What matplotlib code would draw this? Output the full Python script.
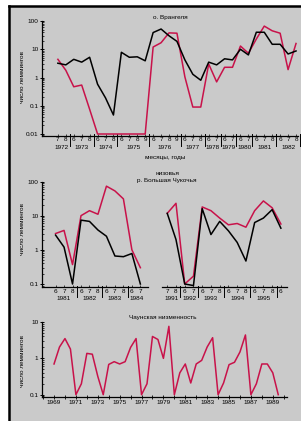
import matplotlib
matplotlib.use('Agg')
import matplotlib.pyplot as plt
from matplotlib.patches import Rectangle
from matplotlib.lines import Line2D
from matplotlib.ticker import LogLocator, NullFormatter, FixedLocator, FixedFormatter
import matplotlib.transforms as mtrans

plt.rcParams['font.family'] = ['Liberation Sans', 'DejaVu Sans']

# ---------------- data ----------------
# Panel 1: Wrangel Island
top_months = [7, 8, 6, 7, 8, 6, 7, 8, 6, 7, 8, 9, 6, 7, 8, 9, 6, 7, 8, 6, 7, 6, 7, 6, 7, 6, 7, 8, 6, 7, 8]
top_years = [1972, 1973, 1974, 1975, 1976, 1977, 1978, 1979, 1980, 1981, 1982]
top_year_counts = [2, 3, 3, 4, 4, 3, 2, 2, 2, 3, 3]
top_black = [3.2, 2.8, 4.4, 3.5, 5.2, 0.58, 0.19, 0.047, 7.8, 5.2, 5.4, 3.9, 39, 52, 30, 19,
             4.2, 1.3, 0.8, 3.5, 2.8, 4.6, 4.2, 10, 6.3, 40, 40, 15, 15, 6.8, 8.7]
top_red = [4.4, 1.8, 0.47, 0.54, 0.075, 0.01, 0.01, 0.01, 0.01, 0.01, 0.01, 0.01, 12, 17, 38, 37,
           1.05, 0.09, 0.09, 3.0, 0.7, 2.3, 2.3, 13, 7.2, 23, 66, 45, 37, 1.9, 16]

# Panel 2 left: Bolshaya Chukochya 1981-1984
midL_months = [6, 7, 8, 6, 7, 8, 6, 7, 8, 6, 7]
midL_years = [1981, 1982, 1983, 1984]
midL_year_counts = [3, 3, 3, 2]
midL_red = [3.0, 3.7, 0.37, 10, 14, 11, 73, 53, 31, 1.0, 0.3]
midL_black = [2.7, 1.2, 0.1, 7.4, 6.8, 3.8, 2.5, 0.66, 0.63, 0.78, 0.1]

# Panel 2 right: 1991-1996
midR_months = [7, 8, 6, 7, 6, 7, 8, 6, 7, 8, 6, 7, 8, 6]
midR_years = [1991, 1992, 1993, 1994, 1995, None]
midR_year_counts = [2, 2, 3, 3, 3, 1]
midR_red = [11.7, 23, 0.1, 0.17, 18, 14, 8.5, 5.4, 5.9, 4.6, 14, 27, 17, 5.7]
midR_black = [11.7, 2.0, 0.1, 0.09, 16, 2.8, 6.8, 3.6, 1.65, 0.47, 6.3, 8.5, 15, 4.3]

# Panel 3: Chaun lowland (half-year steps)
bot_t = [1969 + 0.5 * i for i in range(42)]
bot_red = [0.70, 2.05, 3.5, 1.8, 0.1, 0.2, 1.37, 1.3, 0.32, 0.1, 0.68, 0.81, 0.70, 0.81,
           2.0, 3.5, 0.1, 0.2, 4.0, 3.3, 1.0, 7.6, 0.1, 0.4, 0.7, 0.21, 0.7, 0.88, 2.05,
           3.7, 0.1, 0.21, 0.67, 0.78, 1.5, 4.4, 0.1, 0.2, 0.7, 0.7, 0.4, 0.1]
bot_label_years = list(range(1969, 1990, 2))

# ---------------- figure ----------------
W, H = 301, 421
fig = plt.figure(figsize=(W / 100, H / 100), dpi=100)
fig.patch.set_facecolor('white')
BG = '#cacaca'
RED = '#c8124a'
FS = 4.6

fig.patches.append(Rectangle((9 / W, 0), 1 - 9 / W, 1 - 6 / H, transform=fig.transFigure,
                             facecolor=BG, edgecolor='none', zorder=-5))
fig.lines.append(Line2D([9 / W, 9 / W], [0, 1 - 6 / H], transform=fig.transFigure, color='black', lw=1.8, zorder=-4))
fig.lines.append(Line2D([9 / W, 1], [1 - 6 / H, 1 - 6 / H], transform=fig.transFigure, color='black', lw=1.8, zorder=-4))


def ax_px(l, t, r, b):
    ax = fig.add_axes([l / W, 1 - b / H, (r - l) / W, (b - t) / H])
    ax.set_facecolor('none')
    ax.set_zorder(2)
    for s in ['top', 'right']:
        ax.spines[s].set_visible(False)
    for s in ['left', 'bottom']:
        ax.spines[s].set_linewidth(0.9)
    return ax


def setup_logy(ax, ticks, labels):
    ax.set_yscale('log')
    ax.yaxis.set_major_locator(FixedLocator(ticks))
    ax.yaxis.set_major_formatter(FixedFormatter(labels))
    ax.yaxis.set_minor_locator(LogLocator(base=10, subs=range(2, 10)))
    ax.yaxis.set_minor_formatter(NullFormatter())
    ax.tick_params(axis='y', which='major', direction='inout', length=3, width=0.7, pad=1, labelsize=FS)
    ax.tick_params(axis='y', which='minor', direction='in', length=1.5, width=0.5)


def month_axis(ax, months, years, counts, ax_h_px, sep_end=False, year_dy=-12):
    n = len(months)
    ax.set_xticks(range(n))
    ax.set_xticklabels([str(m) for m in months])
    ax.tick_params(axis='x', which='major', direction='in', length=1.5, width=0.5, pad=1.2, labelsize=FS)
    ax.xaxis.set_minor_locator(FixedLocator([]))
    trans = mtrans.blended_transform_factory(ax.transData, ax.transAxes)
    idx = 0
    seps = []
    for y, c in zip(years, counts):
        if y is not None:
            ax.annotate(str(y), xy=((idx + idx + c - 1) / 2, 0), xycoords=trans,
                        xytext=(0, year_dy * 0.72), textcoords='offset points',
                        ha='center', va='center', fontsize=FS)
        idx += c
        seps.append(idx - 0.5)
    if not sep_end:
        seps = seps[:-1]
    for s in seps:
        ax.add_line(Line2D([s, s], [1.5 / ax_h_px, -10 / ax_h_px], transform=trans,
                           color='black', lw=0.7, clip_on=False))


# ---- top panel ----
t1, b1 = 21, 135.5
ax1 = ax_px(42, t1, 298, b1)
setup_logy(ax1, [0.01, 0.1, 1, 10, 100], ['0.01', '0.1', '1', '10', '100'])
ax1.set_ylim(10 ** (-2 - 1.5 / 28.3), 100)
x1 = list(range(len(top_black)))
ax1.plot(x1, top_red, color=RED, lw=1.1, zorder=3)
ax1.plot(x1, top_black, color='black', lw=1.1, zorder=4)
ax1.set_xlim(-2.0, 30.25)
month_axis(ax1, top_months, top_years, top_year_counts, b1 - t1, sep_end=True)
ax1.set_title('о. Врангеля', fontsize=FS, pad=1.5)
fig.text(165 / W, 1 - 158 / H, 'месяцы, годы', ha='center', va='center', fontsize=FS)

# ---- middle panel ----
t2, b2 = 181.5, 287
dec2 = (284 - 181.5) / 3
ax2 = ax_px(42, t2, 148, b2)
setup_logy(ax2, [0.1, 1, 10, 100], ['0.1', '1', '10', '100'])
ax2.set_ylim(10 ** (-1 - 3 / dec2), 100)
x2 = list(range(len(midL_red)))
ax2.plot(x2, midL_red, color=RED, lw=1.1, zorder=3)
ax2.plot(x2, midL_black, color='black', lw=1.1, zorder=4)
ax2.set_xlim(-1.6, 10.9)
month_axis(ax2, midL_months, midL_years, midL_year_counts, b2 - t2, year_dy=-11)

ax3 = ax_px(162, t2, 287, b2)
ax3.set_yscale('log')
ax3.set_ylim(10 ** (-1 - 3 / dec2), 100)
ax3.spines['left'].set_visible(False)
ax3.set_yticks([])
ax3.yaxis.set_minor_locator(FixedLocator([]))
x3 = list(range(len(midR_red)))
ax3.plot(x3, midR_red, color=RED, lw=1.1, zorder=3)
ax3.plot(x3, midR_black, color='black', lw=1.1, zorder=4)
ax3.set_xlim(-0.6, 13.7)
month_axis(ax3, midR_months, midR_years, midR_year_counts, b2 - t2, year_dy=-11)

fig.text(167 / W, 1 - 173 / H, 'низовья', ha='center', va='center', fontsize=FS)
fig.text(167 / W, 1 - 180.5 / H, 'р. Большая Чукочья', ha='center', va='center', fontsize=FS)

# ---- bottom panel ----
t4, b4 = 322, 397
dec4 = (394.7 - 322) / 2
ax4 = ax_px(42, t4, 287, b4)
setup_logy(ax4, [0.1, 1, 10], ['0.1', '1', '10'])
ax4.set_ylim(10 ** (-1 - 2.3 / dec4), 10)
ax4.plot(bot_t, bot_red, color=RED, lw=1.1, zorder=3)
ax4.set_xlim(1967.9, 1990.3)
ax4.xaxis.set_major_locator(FixedLocator(bot_label_years))
ax4.xaxis.set_minor_locator(FixedLocator(range(1968, 1991)))
ax4.set_xticklabels([str(y) for y in bot_label_years])
ax4.tick_params(axis='x', which='major', direction='inout', length=3, width=0.6, pad=1, labelsize=FS)
ax4.tick_params(axis='x', which='minor', direction='inout', length=3, width=0.6)
fig.text(163 / W, 1 - 317 / H, 'Чаунская низменность', ha='center', va='center', fontsize=FS)

# y labels
for yc in [77, 229, 361]:
    fig.text(22 / W, 1 - yc / H, 'число леммингов', rotation=90, ha='center', va='center', fontsize=FS)

fig.savefig('out.png', dpi=100, facecolor=fig.get_facecolor())
